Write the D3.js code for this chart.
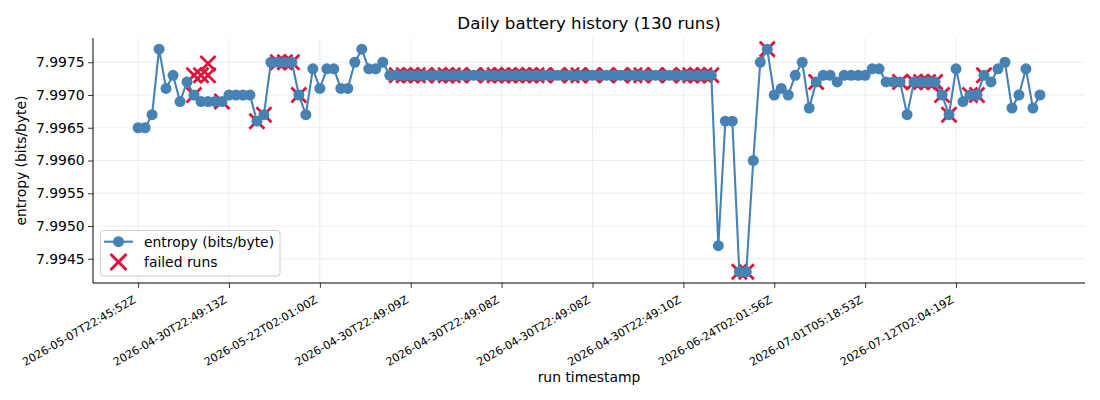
<!DOCTYPE html>
<html>
<head>
<meta charset="utf-8">
<script src="https://cdn.jsdelivr.net/npm/d3@7"></script>
<style>
	body { margin: 0; background: #fff; }
	svg text { font-family: "DejaVu Sans", sans-serif; fill: #000; }
</style>
</head>
<body>
<svg id="chart" width="1100" height="400"></svg>
<script>
// entropy per run, index 0..129
var entropy = [
	7.9965, 7.9965, 7.9967, 7.9977, 7.9971, 7.9973, 7.9969, 7.9972, 7.9970, 7.9969,
	7.9969, 7.9969, 7.9969, 7.9970, 7.9970, 7.9970, 7.9970, 7.9966, 7.9967, 7.9975,
	7.9975, 7.9975, 7.9975, 7.9970, 7.9967, 7.9974, 7.9971, 7.9974, 7.9974, 7.9971,
	7.9971, 7.9975, 7.9977, 7.9974, 7.9974, 7.9975, 7.9973, 7.9973, 7.9973, 7.9973,
	7.9973, 7.9973, 7.9973, 7.9973, 7.9973, 7.9973, 7.9973, 7.9973, 7.9973, 7.9973,
	7.9973, 7.9973, 7.9973, 7.9973, 7.9973, 7.9973, 7.9973, 7.9973, 7.9973, 7.9973,
	7.9973, 7.9973, 7.9973, 7.9973, 7.9973, 7.9973, 7.9973, 7.9973, 7.9973, 7.9973,
	7.9973, 7.9973, 7.9973, 7.9973, 7.9973, 7.9973, 7.9973, 7.9973, 7.9973, 7.9973,
	7.9973, 7.9973, 7.9973, 7.9947, 7.9966, 7.9966, 7.9943, 7.9943, 7.9960, 7.9975,
	7.9977, 7.9970, 7.9971, 7.9970, 7.9973, 7.9975, 7.9968, 7.9972, 7.9973, 7.9973,
	7.9972, 7.9973, 7.9973, 7.9973, 7.9973, 7.9974, 7.9974, 7.9972, 7.9972, 7.9972,
	7.9967, 7.9972, 7.9972, 7.9972, 7.9972, 7.9970, 7.9967, 7.9974, 7.9969, 7.9970,
	7.9970, 7.9973, 7.9972, 7.9974, 7.9975, 7.9968, 7.9970, 7.9974, 7.9968, 7.9970
];

// failed runs: run index and the value the marker sits at
var failedIdx = [
	8, 9, 10, 10, 8, 12, 17, 18, 20, 21, 22, 23,
	37, 38, 39, 40, 41, 43, 44, 45, 46, 48, 50, 51,
	52, 53, 54, 55, 56, 57, 58, 60, 62, 63, 65, 67,
	69, 71, 72, 74, 76, 78, 79, 80, 81, 82,
	86, 87, 90, 97, 109, 111, 112, 113, 114, 115, 116, 119, 120, 121
];
var failedVal = [
	7.9973, 7.9973, 7.9973, 7.99748, 7.9970, 7.9969, 7.9966, 7.9967, 7.9975, 7.9975, 7.9975, 7.9970,
	7.9973, 7.9973, 7.9973, 7.9973, 7.9973, 7.9973, 7.9973, 7.9973, 7.9973, 7.9973, 7.9973, 7.9973,
	7.9973, 7.9973, 7.9973, 7.9973, 7.9973, 7.9973, 7.9973, 7.9973, 7.9973, 7.9973, 7.9973, 7.9973,
	7.9973, 7.9973, 7.9973, 7.9973, 7.9973, 7.9973, 7.9973, 7.9973, 7.9973, 7.9973,
	7.9943, 7.9943, 7.9977, 7.9972, 7.9972, 7.9972, 7.9972, 7.9972, 7.9972, 7.9970, 7.9967, 7.9970, 7.9970, 7.9973
];

var xTickIdx = [0, 13, 26, 39, 52, 65, 78, 91, 104, 117];
var xTickLabels = [
	"2026-05-07T22:45:52Z", "2026-04-30T22:49:13Z", "2026-05-22T02:01:00Z",
	"2026-04-30T22:49:09Z", "2026-04-30T22:49:08Z", "2026-04-30T22:49:08Z",
	"2026-04-30T22:49:10Z", "2026-06-24T02:01:56Z", "2026-07-01T05:18:53Z",
	"2026-07-12T02:04:19Z"
];
var yTicks = [7.9945, 7.9950, 7.9955, 7.9960, 7.9965, 7.9970, 7.9975];

var LINE = "#4682b4", FAIL = "#dc143c";
var plot = { left: 93, right: 1085, top: 38, bottom: 283 };

var svg = d3.select("#chart");

// matplotlib style 5% margins
var n = entropy.length;
var xPad = (n - 1) * 0.05;
var yMin = d3.min(entropy), yMax = d3.max(entropy);
var yPad = (yMax - yMin) * 0.05;

var x = d3.scaleLinear().domain([-xPad, n - 1 + xPad]).range([plot.left, plot.right]);
var y = d3.scaleLinear().domain([yMin - yPad, yMax + yPad]).range([plot.bottom, plot.top]);

// grid
var grid = svg.append("g").attr("stroke", "#b0b0b0").attr("stroke-opacity", 0.3).attr("stroke-width", 0.8);
grid.selectAll("line.gx").data(xTickIdx).enter().append("line")
	.attr("x1", function(d) { return x(d); }).attr("x2", function(d) { return x(d); })
	.attr("y1", plot.top).attr("y2", plot.bottom);
grid.selectAll("line.gy").data(yTicks).enter().append("line")
	.attr("y1", function(d) { return y(d); }).attr("y2", function(d) { return y(d); })
	.attr("x1", plot.left).attr("x2", plot.right);

function crossPath(cx, cy, h) {
	return "M" + (cx - h) + "," + (cy - h) + "L" + (cx + h) + "," + (cy + h) +
	       "M" + (cx - h) + "," + (cy + h) + "L" + (cx + h) + "," + (cy - h);
}

// failed markers sit under the line
svg.append("g").selectAll("path").data(failedIdx).enter().append("path")
	.attr("d", function(d, i) { return crossPath(x(d), y(failedVal[i]), 7.5); })
	.attr("stroke", FAIL).attr("stroke-width", 2.8).attr("fill", "none");

var line = d3.line()
	.x(function(d, i) { return x(i); })
	.y(function(d) { return y(d); });

svg.append("path").datum(entropy)
	.attr("d", line)
	.attr("fill", "none").attr("stroke", LINE).attr("stroke-width", 2.1)
	.attr("stroke-linejoin", "round");

svg.append("g").selectAll("circle").data(entropy).enter().append("circle")
	.attr("cx", function(d, i) { return x(i); })
	.attr("cy", function(d) { return y(d); })
	.attr("r", 5.5).attr("fill", LINE);

// axes
var xAxis = d3.axisBottom(x).tickValues(xTickIdx)
	.tickFormat(function(d, i) { return xTickLabels[i]; })
	.tickSizeInner(4.9).tickSizeOuter(0);
var gx = svg.append("g").attr("transform", "translate(0," + plot.bottom + ")").call(xAxis);
gx.select(".domain").attr("d", "M" + plot.left + ",0H" + plot.right).attr("stroke", "#000").attr("stroke-width", 1);
gx.selectAll(".tick line").attr("stroke", "#000").attr("stroke-width", 0.8);
gx.selectAll(".tick text")
	.attr("font-size", 11.1)
	.attr("text-anchor", "end")
	.attr("dy", 0)
	.attr("y", 0)
	.attr("transform", "translate(-2,19) rotate(-30)");

var yAxis = d3.axisLeft(y).tickValues(yTicks)
	.tickFormat(d3.format(".4f"))
	.tickSizeInner(4.9).tickSizeOuter(0).tickPadding(3.5);
var gy = svg.append("g").attr("transform", "translate(" + plot.left + ",0)").call(yAxis);
gy.select(".domain").attr("d", "M0," + plot.bottom + "V" + plot.top).attr("stroke", "#000").attr("stroke-width", 1);
gy.selectAll(".tick line").attr("stroke", "#000").attr("stroke-width", 0.8);
gy.selectAll(".tick text").attr("font-size", 13.9);

// labels
var midX = (plot.left + plot.right) / 2;
svg.append("text").attr("x", midX).attr("y", 29).attr("text-anchor", "middle")
	.attr("font-size", 16.7).text("Daily battery history (130 runs)");
svg.append("text").attr("x", midX).attr("y", 382).attr("text-anchor", "middle")
	.attr("font-size", 13.9).text("run timestamp");
svg.append("text").attr("transform", "translate(26," + ((plot.top + plot.bottom) / 2) + ") rotate(-90)")
	.attr("text-anchor", "middle").attr("font-size", 13.9).text("entropy (bits/byte)");

// legend
var lg = svg.append("g");
lg.append("rect").attr("x", 100.5).attr("y", 230.5).attr("width", 179.5).attr("height", 45.5)
	.attr("rx", 3).attr("fill", "#fff").attr("fill-opacity", 0.8)
	.attr("stroke", "#cccccc").attr("stroke-width", 1);
lg.append("line").attr("x1", 104).attr("x2", 133).attr("y1", 241.7).attr("y2", 241.7)
	.attr("stroke", LINE).attr("stroke-width", 2.1);
lg.append("circle").attr("cx", 118.5).attr("cy", 241.7).attr("r", 5.5).attr("fill", LINE);
lg.append("path").attr("d", crossPath(118.5, 262, 8)).attr("stroke", FAIL)
	.attr("stroke-width", 3).attr("fill", "none");
lg.append("text").attr("x", 144).attr("y", 246.5).attr("font-size", 13.9).text("entropy (bits/byte)");
lg.append("text").attr("x", 144).attr("y", 266.5).attr("font-size", 13.9).text("failed runs");
</script>
</body>
</html>
